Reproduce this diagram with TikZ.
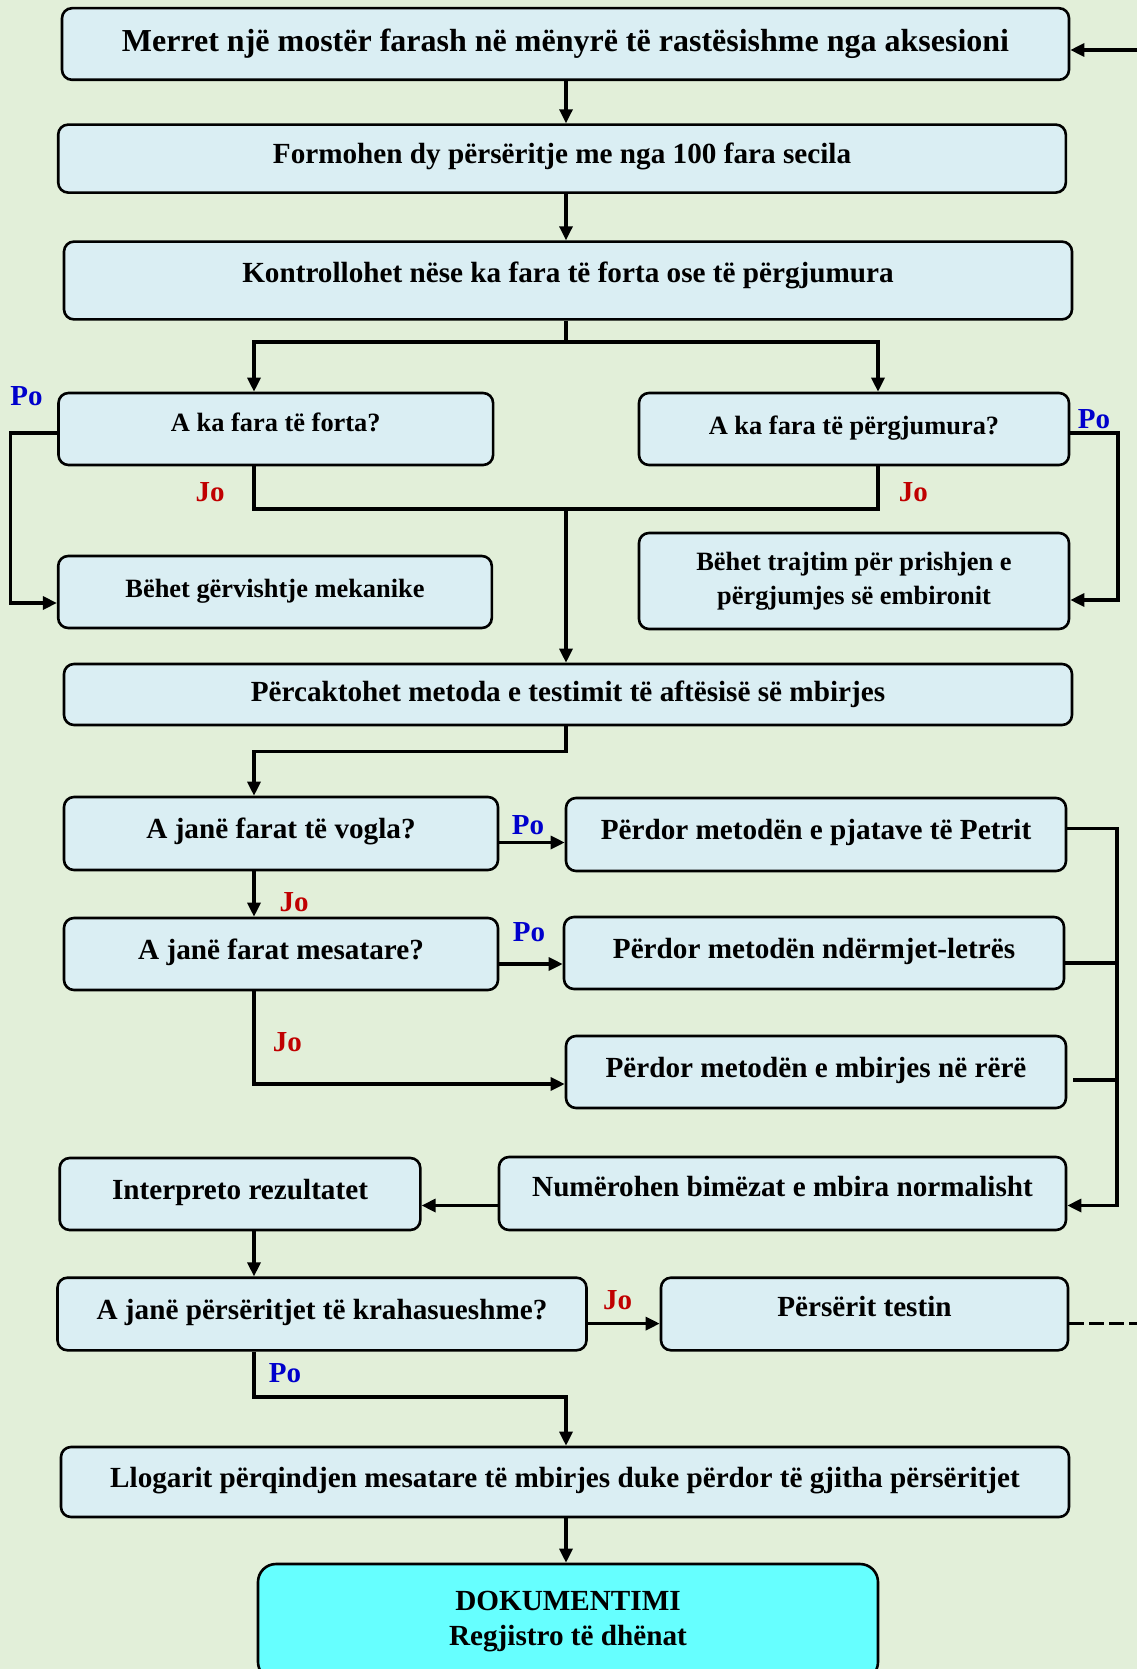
\documentclass[tikz,border=0pt]{standalone}
\usepackage{fontspec}
\setmainfont{Liberation Serif}
\usetikzlibrary{arrows.meta}
\definecolor{bgcol}{HTML}{E2EFD9}
\definecolor{boxcol}{HTML}{DAEEF3}
\definecolor{endcol}{HTML}{66FFFF}
\definecolor{pocol}{HTML}{0000CC}
\definecolor{jocol}{HTML}{C00000}
\tikzset{
  boxbase/.style={draw, rounded corners=5pt, line width=1.3pt, fill=boxcol, inner sep=0pt, align=center, font=\fontsize{14.6}{17.5}\selectfont\bfseries},
  box/.style={boxbase, text height=9pt, text depth=4pt},
  smallbox/.style={box, font=\fontsize{13.2}{17}\selectfont\bfseries},
  wire/.style={line width=1.6pt},
  conn/.style={wire, -{Triangle[length=7pt,width=6.5pt]}},
  po/.style={text=pocol, font=\fontsize{14.5}{17}\selectfont\bfseries},
  jo/.style={text=jocol, font=\fontsize{14.5}{17}\selectfont\bfseries},
}

\begin{document}
\begin{tikzpicture}[x=0.5pt,y=-0.5pt]
\fill[bgcol] (0,0) rectangle (1137,1669);
\useasboundingbox (0,0) rectangle (1137,1669);

\coordinate (lx) at (254,0);
\coordinate (rx) at (878,0);
\coordinate (mx) at (566,0);
\coordinate (bx) at (1117,0);
\coordinate (pl) at (10.6,0);
\coordinate (pr) at (1118,0);
\coordinate (edge) at (1137,0);

\node (merret) at (565.5,44) [box, font=\fontsize{16}{19}\selectfont\bfseries, text height=10.5pt, text depth=2.5pt, minimum width=503.5pt, minimum height=35.8pt] {Merret një mostër farash në mënyrë të rastësishme nga aksesioni};
\node (formohen) at (562,158.6) [box, minimum width=503.8pt, minimum height=34pt] {Formohen dy përsëritje me nga 100 fara secila};
\node (kontroll) at (568,280.5) [box, text height=8pt, text depth=6pt, minimum width=504pt, minimum height=38.9pt] {Kontrollohet nëse ka fara të forta ose të përgjumura};
\node (forta) at (275.8,429) [smallbox, text height=8pt, text depth=5.5pt, minimum width=217.3pt, minimum height=36pt] {A ka fara të forta?};
\node (pergj) at (854,429) [smallbox, minimum width=215pt, minimum height=36pt] {A ka fara të përgjumura?};
\node (gervisht) at (275,592) [smallbox, minimum width=216.8pt, minimum height=36pt] {Bëhet gërvishtje mekanike};
\node (trajtim) at (854,581) [boxbase, font=\fontsize{13.2}{17}\selectfont\bfseries, minimum width=215pt, minimum height=48pt] {Bëhet trajtim për prishjen e\\përgjumjes së embironit};
\node (percakt) at (568,694.5) [box, text height=10pt, text depth=3pt, minimum width=504pt, minimum height=30.5pt] {Përcaktohet metoda e testimit të aftësisë së mbirjes};
\node (vogla) at (281,833.5) [box, minimum width=217pt, minimum height=36.5pt] {A janë farat të vogla?};
\node (petri) at (816,834.5) [box, minimum width=250pt, minimum height=36.5pt] {Përdor metodën e pjatave të Petrit};
\node (mesat) at (281,954) [box, minimum width=217pt, minimum height=36pt] {A janë farat mesatare?};
\node (letres) at (814,953) [box, minimum width=250pt, minimum height=36pt] {Përdor metodën ndërmjet-letrës};
\node (rere) at (816,1072) [box, minimum width=250pt, minimum height=36pt] {Përdor metodën e mbirjes në rërë};
\node (interp) at (240,1194) [box, minimum width=180.3pt, minimum height=36pt] {Interpreto rezultatet};
\node (numer) at (782.5,1193.5) [box, text height=8pt, text depth=5.5pt, minimum width=283.5pt, minimum height=36.5pt] {Numërohen bimëzat e mbira normalisht};
\node (krahas) at (322,1314) [box, minimum width=264.5pt, minimum height=36.3pt] {A janë përsëritjet të krahasueshme?};
\node (testin) at (864.5,1314) [box, text height=8pt, text depth=6pt, minimum width=203.5pt, minimum height=36.3pt] {Përsërit testin};
\node (llogar) at (565,1482) [box, minimum width=504pt, minimum height=35pt] {Llogarit përqindjen mesatare të mbirjes duke përdor të gjitha përsëritjet};
\node (dokum) at (568,1622) [boxbase, fill=endcol, rounded corners=9pt, minimum width=310pt, minimum height=58pt] {DOKUMENTIMI\\Regjistro të dhënat};

\coordinate (s1) at (566,342);
\coordinate (s2) at (566,509);
\coordinate (s3) at (566,751.6);
\coordinate (s4) at (566,1397);

\draw[conn] ([yshift=-3pt]merret.east -| edge) -- ([yshift=-3pt]merret.east);
\draw[conn] (merret.south -| mx) -- (formohen.north -| mx);
\draw[conn] (formohen.south -| mx) -- (kontroll.north -| mx);
\draw[wire] (kontroll.south -| mx) -- (s1);
\draw[conn] (s1) -| (forta.north -| lx);
\draw[conn] (s1) -| (pergj.north -| rx);
\draw[wire] (forta.south -| lx) |- (s2);
\draw[wire] (pergj.south -| rx) |- (s2);
\draw[conn] (s2) -- (percakt.north -| s2);
\draw[conn] ([yshift=-2pt]forta.west) -- ([yshift=-2pt]forta.west -| pl) |- ([yshift=-5.5pt]gervisht.west);
\draw[conn] ([yshift=-2pt]pergj.east) -- ([yshift=-2pt]pergj.east -| pr) |- ([yshift=-9.5pt]trajtim.east);

\draw[conn] (percakt.south -| mx) -- (s3) -| (vogla.north -| lx);
\draw[conn] ([yshift=-4.5pt]vogla.east) -- ([yshift=-4.5pt]vogla.east -| petri.west);
\draw[conn] (vogla.south -| lx) -- (mesat.north -| lx);
\draw[conn] ([yshift=-5pt]mesat.east) -- ([yshift=-5pt]mesat.east -| letres.west);
\draw[conn] (mesat.south -| lx) |- ([yshift=-6pt]rere.west);

\draw[conn] ([yshift=3pt]petri.east) -- ([yshift=3pt]petri.east -| bx) |- ([yshift=-6pt]numer.east);
\draw[wire] ([yshift=-5pt]letres.east) -- ([yshift=-5pt]letres.east -| bx);
\draw[wire] ([xshift=3pt,yshift=-4pt]rere.east) -- ([yshift=-4pt]rere.east -| bx);
\draw[conn] ([yshift=-6pt]numer.west) -- ([yshift=-6pt]numer.west -| interp.east);
\draw[conn] (interp.south -| lx) -- (krahas.north -| lx);
\draw[conn] ([yshift=-4.8pt]krahas.east) -- ([yshift=-4.8pt]krahas.east -| testin.west);
\draw[wire, dash pattern=on 7.5pt off 2.5pt] ([yshift=-4.8pt]testin.east) -- ([yshift=-4.8pt]testin.east -| edge);
\draw[conn] (krahas.south -| lx) |- (s4) -- (llogar.north -| s4);
\draw[conn] (llogar.south -| mx) -- (dokum.north -| mx);

\node[po] (po1) at (26.6,396) {Po};
\node[jo] (jo1) at (210,492) {Jo};
\node[po] (po2) at (1094,419.5) {Po};
\node[jo] (jo2) at (913.4,492) {Jo};
\node[po] (po3) at (528,825) {Po};
\node[jo] (jo3) at (294,902) {Jo};
\node[po] (po4) at (529,932.6) {Po};
\node[jo] (jo4) at (287.4,1042) {Jo};
\node[jo] (jo5) at (617.5,1300) {Jo};
\node[po] (po5) at (285,1373) {Po};
\end{tikzpicture}
\end{document}
